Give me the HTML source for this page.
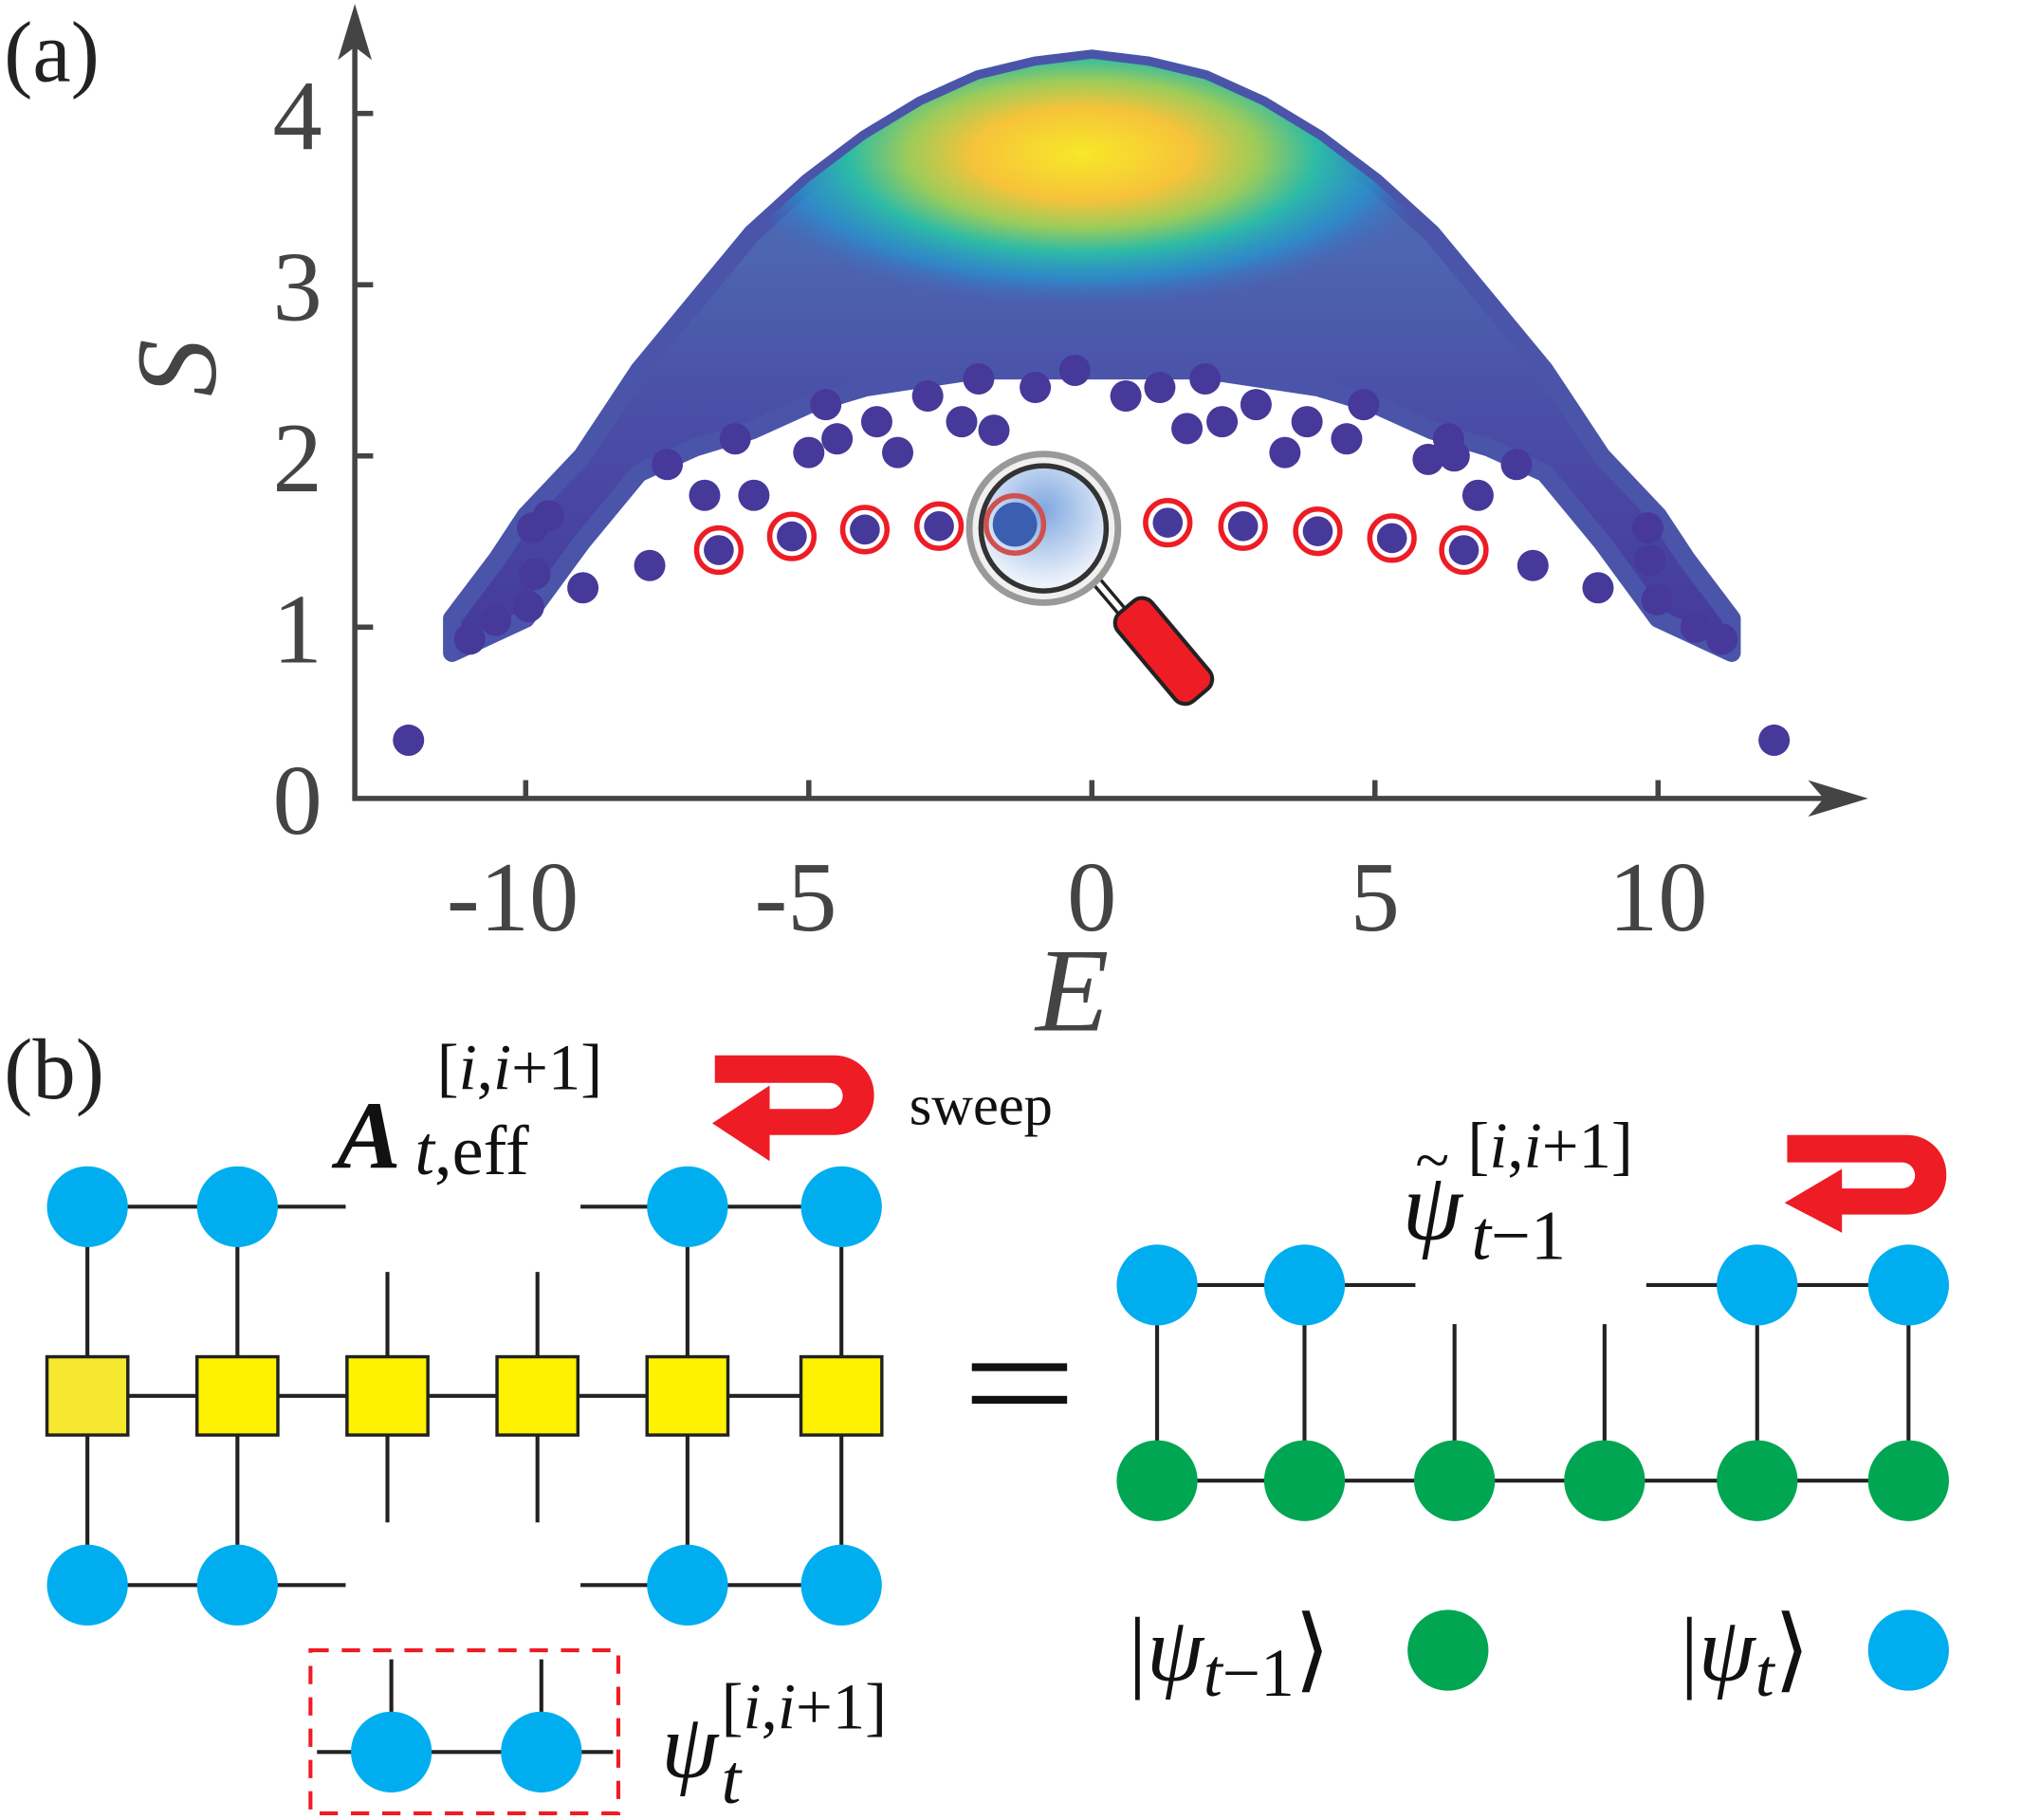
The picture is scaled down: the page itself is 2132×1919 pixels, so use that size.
<!DOCTYPE html>
<html><head><meta charset="utf-8"><style>
html,body{margin:0;padding:0;background:#fff;overflow:hidden;}
svg{display:block;}
text{font-family:"Liberation Serif",serif;}
</style></head><body>
<svg id="fig" width="2132" height="1919" viewBox="0 0 1550 1395.1" preserveAspectRatio="none" xmlns="http://www.w3.org/2000/svg">
<defs>
<linearGradient id="cloudBase" gradientUnits="userSpaceOnUse" x1="0" y1="40" x2="0" y2="500">
<stop offset="0" stop-color="#4a78c0"/><stop offset="0.35" stop-color="#4d64b0"/><stop offset="0.6" stop-color="#4a4ea6"/><stop offset="1" stop-color="#45399a"/>
</linearGradient>
<radialGradient id="cloudHot" gradientUnits="userSpaceOnUse" cx="830" cy="118" r="280" gradientTransform="translate(830 118) scale(1 0.42) translate(-830 -118)">
<stop offset="0" stop-color="#f7e828"/><stop offset="0.3" stop-color="#f6c33a"/><stop offset="0.48" stop-color="#9ccc5a"/><stop offset="0.64" stop-color="#2dbba6"/><stop offset="0.82" stop-color="#2496d0" stop-opacity="0.7"/><stop offset="1" stop-color="#3d6cc0" stop-opacity="0"/>
</radialGradient>
<radialGradient id="lens" cx="0.5" cy="0.35" r="0.6">
<stop offset="0" stop-color="#7fa8e0"/><stop offset="1" stop-color="#eef3fb"/>
</radialGradient>
<clipPath id="cloudClip"><path id="cloudClipPath" d=""/></clipPath>
</defs>

<text x="3" y="62" font-size="66" fill="#222">(a)</text>

<g id="chart">
<path id="cloud" fill="url(#cloudBase)"/>
<rect x="300" y="0" width="1100" height="450" fill="url(#cloudHot)" clip-path="url(#cloudClip)"/>
<g id="dots"></g>
<g id="rings"></g>
</g>

<g>
<line x1="272" y1="612" x2="272" y2="20" stroke="#444" stroke-width="4"/>
<path d="M272 3 L259 46 L272 36 L285 46 Z" fill="#444"/>
</g>
<g>
<line x1="270" y1="612" x2="1410" y2="612" stroke="#444" stroke-width="4"/>
<path d="M1432 612 L1386 598 L1398 612 L1386 626 Z" fill="#444"/>
</g>
<g id="ticks"></g>
<text x="822" y="790" font-size="92" font-style="italic" fill="#444" text-anchor="middle">E</text>
<text transform="translate(165 282) rotate(-90)" font-size="88" font-style="italic" fill="#444" text-anchor="middle">S</text>

<g>
<line x1="840" y1="445" x2="868" y2="478" stroke="#222" stroke-width="9"/>
<line x1="840" y1="445" x2="868" y2="478" stroke="#fff" stroke-width="4"/>
<rect x="875" y="455" width="34" height="88" rx="10" fill="#ee1c25" stroke="#222" stroke-width="3" transform="rotate(-40 892 499)"/>
<circle cx="800" cy="405" r="57" fill="#f0f0f0" stroke="#999" stroke-width="5"/>
<circle cx="800" cy="405" r="48" fill="url(#lens)" stroke="#333" stroke-width="4"/>
<circle cx="778" cy="402" r="22" fill="none" stroke="#d05050" stroke-width="4"/>
<circle cx="778" cy="402" r="17" fill="#3a5eb0"/>
</g>

<text x="3" y="842" font-size="66" fill="#222">(b)</text>
<g>
<text x="258" y="895" font-size="74" font-style="italic" font-weight="bold" fill="#111">A</text>
<text x="318" y="900" font-size="54" fill="#111"><tspan font-style="italic">t</tspan>,eff</text>
<text x="335" y="835" font-size="50" fill="#111">[<tspan font-style="italic">i</tspan>,<tspan font-style="italic">i</tspan>+1]</text>
</g>
<path d="M548 809 L640 809 A30 30 0 0 1 670 839 A30 30 0 0 1 640 870 L590 870 L590 890 L546 861 L590 832 L590 850 L636 850 A10 10 0 0 0 636 830 L548 830 Z" fill="#ee1c25"/>
<text x="697" y="862" font-size="44" fill="#111">sweep</text>

<g id="leftnet" stroke="#222" stroke-width="3">
<line x1="67" y1="925" x2="265" y2="925"/><line x1="445" y1="925" x2="645" y2="925"/>
<line x1="67" y1="1215" x2="265" y2="1215"/><line x1="445" y1="1215" x2="645" y2="1215"/>
<line x1="67" y1="1070" x2="645" y2="1070"/>
<line x1="67" y1="925" x2="67" y2="1215"/><line x1="182" y1="925" x2="182" y2="1215"/>
<line x1="527" y1="925" x2="527" y2="1215"/><line x1="645" y1="925" x2="645" y2="1215"/>
<line x1="297" y1="975" x2="297" y2="1167"/><line x1="412" y1="975" x2="412" y2="1167"/>
<g fill="#fff200" stroke="#222" stroke-width="2.5">
<rect x="36" y="1040" width="62" height="60" fill="#f5e82e"/><rect x="151" y="1040" width="62" height="60"/><rect x="266" y="1040" width="62" height="60"/><rect x="381" y="1040" width="62" height="60"/><rect x="496" y="1040" width="62" height="60"/><rect x="614" y="1040" width="62" height="60"/>
</g>
<g fill="#00aeef" stroke="none">
<circle cx="67" cy="925" r="31"/><circle cx="182" cy="925" r="31"/><circle cx="527" cy="925" r="31"/><circle cx="645" cy="925" r="31"/>
<circle cx="67" cy="1215" r="31"/><circle cx="182" cy="1215" r="31"/><circle cx="527" cy="1215" r="31"/><circle cx="645" cy="1215" r="31"/>
</g>
</g>

<g>
<rect x="238" y="1265" width="236" height="125" fill="none" stroke="#ee1c25" stroke-width="3" stroke-dasharray="14 10"/>
<line x1="243" y1="1343" x2="470" y2="1343" stroke="#222" stroke-width="3"/>
<line x1="300" y1="1272" x2="300" y2="1320" stroke="#222" stroke-width="3"/>
<line x1="415" y1="1272" x2="415" y2="1320" stroke="#222" stroke-width="3"/>
<circle cx="300" cy="1343" r="31" fill="#00aeef"/><circle cx="415" cy="1343" r="31" fill="#00aeef"/>
</g>
<g>
<text x="507" y="1362" font-size="70" font-style="italic" fill="#111">ψ</text>
<text x="553" y="1382" font-size="54" font-style="italic" fill="#111">t</text>
<text x="553" y="1325" font-size="50" fill="#111">[<tspan font-style="italic">i</tspan>,<tspan font-style="italic">i</tspan>+1]</text>
</g>

<g>
<rect x="745" y="1045" width="73" height="6" fill="#111"/><rect x="745" y="1070" width="73" height="6" fill="#111"/>
</g>

<g>
<text x="1075" y="950" font-size="74" font-style="italic" fill="#111">ψ</text>
<text x="1085" y="905" font-size="48" fill="#111">~</text>
<text x="1128" y="965" font-size="54" fill="#111"><tspan font-style="italic">t</tspan>−1</text>
<text x="1125" y="895" font-size="50" fill="#111">[<tspan font-style="italic">i</tspan>,<tspan font-style="italic">i</tspan>+1]</text>
</g>
<path d="M1370 870 L1462 870 A30 30 0 0 1 1492 900 A30 30 0 0 1 1462 931 L1412 931 L1412 945 L1368 922 L1412 896 L1412 911 L1458 911 A10 10 0 0 0 1458 891 L1370 891 Z" fill="#ee1c25"/>

<g stroke="#222" stroke-width="3">
<line x1="887" y1="985" x2="1085" y2="985"/><line x1="1262" y1="985" x2="1463" y2="985"/>
<line x1="887" y1="1135" x2="1463" y2="1135"/>
<line x1="887" y1="985" x2="887" y2="1135"/><line x1="1000" y1="985" x2="1000" y2="1135"/>
<line x1="1347" y1="985" x2="1347" y2="1135"/><line x1="1463" y1="985" x2="1463" y2="1135"/>
<line x1="1115" y1="1015" x2="1115" y2="1135"/><line x1="1230" y1="1015" x2="1230" y2="1135"/>
<g stroke="none" fill="#00aeef">
<circle cx="887" cy="985" r="31"/><circle cx="1000" cy="985" r="31"/><circle cx="1347" cy="985" r="31"/><circle cx="1463" cy="985" r="31"/>
</g>
<g stroke="none" fill="#00a651">
<circle cx="887" cy="1135" r="31"/><circle cx="1000" cy="1135" r="31"/><circle cx="1115" cy="1135" r="31"/><circle cx="1230" cy="1135" r="31"/><circle cx="1347" cy="1135" r="31"/><circle cx="1463" cy="1135" r="31"/>
</g>
</g>

<g>
<text x="865" y="1288" font-size="70" fill="#111">|<tspan font-style="italic">ψ</tspan><tspan font-size="52" font-style="italic" dy="12">t</tspan><tspan font-size="52" dy="0">−1</tspan><tspan dy="-12">⟩</tspan></text>
<circle cx="1110" cy="1265" r="31" fill="#00a651"/>
<text x="1288" y="1288" font-size="70" fill="#111">|<tspan font-style="italic">ψ</tspan><tspan font-size="52" font-style="italic" dy="12">t</tspan><tspan dy="-12">⟩</tspan></text>
<circle cx="1463" cy="1265" r="31" fill="#00aeef"/>
</g>
</svg>

<script>
const cloudUpperE = [-11.3,-10.5,-10,-9,-8,-7,-6,-5,-4,-3,-2,-1,0,1,2,3,4,5,6,7,8,9,10,10.5,11.3];
const cloudUpperS = [1.05,1.4,1.65,2.0,2.5,2.9,3.3,3.6,3.85,4.05,4.2,4.28,4.32,4.28,4.2,4.05,3.85,3.6,3.3,2.9,2.5,2.0,1.65,1.4,1.05];
const cloudLowerE = [11.3,10,9,8,7,6,5,4,3,2,1,0,-1,-2,-3,-4,-5,-6,-7,-8,-9,-10,-11.3];
const cloudLowerS = [0.85,1.05,1.5,1.9,2.05,2.15,2.3,2.4,2.45,2.5,2.5,2.5,2.5,2.5,2.45,2.4,2.3,2.15,2.05,1.9,1.5,1.05,0.85];
const dotE = [-12.07,12.05,-7.81,-8.99,7.79,8.94,-3.43,-1.73,1.68,3.41,-5.97,6.82,-5.0,5.94,-6.84,6.4,-10.99,-10.53,-9.95,-9.84,-9.88,-9.6,11.13,10.67,9.98,9.86,9.82,-2.3,2.3,-4.5,4.5,-4.7,-3.8,-2.9,-1.0,0.6,2.9,3.8,4.8,-7.5,7.5,-6.3,6.3,-2.0,2.0,-0.3,1.2];
const dotS = [0.34,0.34,1.36,1.23,1.36,1.23,2.02,2.15,2.16,2.02,1.77,1.77,2.02,1.98,1.77,2.0,0.93,1.04,1.12,1.31,1.58,1.65,0.93,1.0,1.16,1.39,1.58,2.2,2.2,2.1,2.1,2.3,2.2,2.35,2.4,2.35,2.3,2.2,2.3,1.95,1.95,2.1,2.1,2.45,2.45,2.5,2.4];
const ringE = [-6.59,-5.30,-4.01,-2.70,1.34,2.67,3.99,5.30,6.57];
const ringS = [1.45,1.53,1.57,1.59,1.61,1.59,1.56,1.52,1.45];
const xTicks = [-10,-5,0,5,10];
const xTickLabels = ["-10","-5","0","5","10"];
const yTicks = [0,1,2,3,4];
const yTickLabels = ["0","1","2","3","4"];

const NS = "http://www.w3.org/2000/svg";
function xS(e){ return 837 + 43.4*e; }
function yS(s){ return 612 - 131.25*s; }
function mk(tag, attrs, parent){ const el=document.createElementNS(NS,tag); for(const k in attrs) el.setAttribute(k, attrs[k]); parent.appendChild(el); return el; }

let d = "";
cloudUpperE.forEach((e,i)=>{ d += (i?"L":"M") + xS(e).toFixed(1) + " " + yS(cloudUpperS[i]).toFixed(1) + " "; });
cloudLowerE.forEach((e,i)=>{ d += "L" + xS(e).toFixed(1) + " " + yS(cloudLowerS[i]).toFixed(1) + " "; });
d += "Z";
const cloud = document.getElementById("cloud");
cloud.setAttribute("d", d);
cloud.setAttribute("stroke", "#4a55aa");
cloud.setAttribute("stroke-width", "14");
cloud.setAttribute("stroke-linejoin", "round");
document.getElementById("cloudClipPath").setAttribute("d", d);

const dots = document.getElementById("dots");
dotE.forEach((e,i)=>{
  const c = mk("circle",{cx:xS(e),cy:yS(dotS[i]),r:12,fill:"#46399a"},dots);
  
  
});
const rings = document.getElementById("rings");
ringE.forEach((e,i)=>{
  const g = mk("g",{},rings);
  
  
  mk("circle",{cx:xS(e),cy:yS(ringS[i]),r:17,fill:"#fff",stroke:"#ee1c25","stroke-width":4},g);
  mk("circle",{cx:xS(e),cy:yS(ringS[i]),r:11.5,fill:"#46399a"},g);
});

const ticks = document.getElementById("ticks");
xTicks.forEach((v,i)=>{
  const l = mk("line",{x1:xS(v),x2:xS(v),y1:612,y2:598,stroke:"#444","stroke-width":4},ticks);
  
  
  const t = mk("text",{x:xS(v)-(v<0?10:0),y:713,"font-size":76,fill:"#444","text-anchor":"middle"},ticks);
  t.textContent = xTickLabels[i];
  
  
});
yTicks.forEach((v,i)=>{
  if(v>0){
    const l = mk("line",{x1:272,x2:286,y1:yS(v),y2:yS(v),stroke:"#444","stroke-width":4},ticks);
    
    
  }
  const t = mk("text",{x:228,y:yS(v)+27,"font-size":76,fill:"#444","text-anchor":"middle"},ticks);
  t.textContent = yTickLabels[i];
  
  
});
</script>
</body></html>
